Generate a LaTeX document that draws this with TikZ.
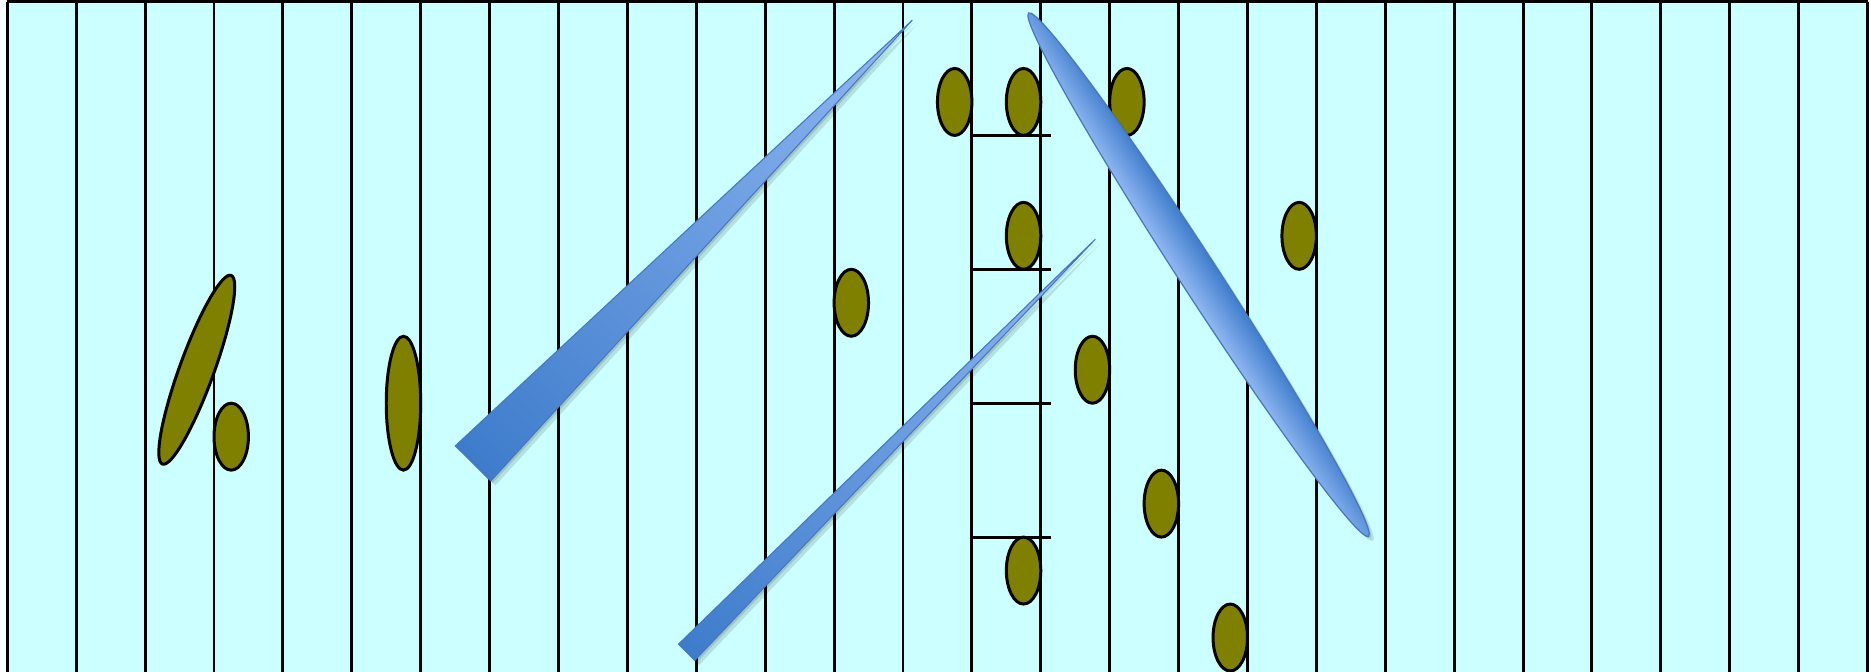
\documentclass[tikz,border=0pt]{standalone}
\usepackage{xcolor,tikz}
\definecolor{cellcyan}{RGB}{204,255,255}
\definecolor{grainolive}{RGB}{128,128,0}
\definecolor{needledark}{RGB}{62,124,203}
\definecolor{needlelight}{RGB}{146,184,243}
\definecolor{needlemid}{RGB}{84,140,214}
\definecolor{needleedge}{RGB}{70,120,190}

\begin{document}
\begin{tikzpicture}[x=0.689cm,y=0.6695cm,
  gridline/.style={line width=.85pt,black},
  grain/.style={draw=black,fill=grainolive,line width=.85pt},
  needle/.style={left color=needledark,right color=needlelight,draw=needleedge,line width=.3pt},
  spindle/.style={bottom color=needlelight,middle color=needlemid,top color=needledark,draw=needleedge,line width=.35pt},
  needleshadow/.style={fill=black,opacity=.12}]
\useasboundingbox (-0.106,0.0224) rectangle (27.05,-10.015);
\fill[cellcyan] (0,0) rectangle (27,-10.015);
\foreach \x in {0,...,27}
  \draw[gridline] (\x,0) -- (\x,-10.015);
\draw[gridline] (0,0) -- (27,0);
\foreach \y in {-2,-4,-6,-8}
  \draw[gridline] (14,\y) -- (15.15,\y);
\foreach \x/\y in {13.75/-1.5,14.75/-1.5,16.25/-1.5,14.75/-3.5,18.75/-3.5,12.25/-4.5,
                   15.75/-5.5,16.75/-7.5,14.75/-8.5,17.75/-9.5,3.25/-6.5}
  \draw[grain] (\x,\y) ellipse (.25 and .5);
\draw[grain] (5.75,-6) ellipse (.25 and 1);
\draw[grain,rotate around={-20:(2.75,-5.5)}] (2.75,-5.5) ellipse (.25 and 1.5);
% needles
\foreach \dx in {.02,.045}
{
\begin{scope}[transform canvas={shift={(6.76,-6.90)},xshift=\dx cm,yshift=-\dx cm,rotate=45.26}]
  \fill[needleshadow] (0cm,-.25cm) -- (6.24cm,0cm) -- (0cm,.25cm) -- cycle;
\end{scope}
\begin{scope}[transform canvas={shift={(9.86,-9.72)},xshift=\dx cm,yshift=-\dx cm,rotate=45.3}]
  \fill[needleshadow] (0cm,-.115cm) -- (5.81cm,0cm) -- (0cm,.115cm) -- cycle;
\end{scope}
\begin{scope}[transform canvas={shift={(17.29,-4.08)},xshift=\dx cm,yshift=-\dx cm,rotate=-57}]
  \fill[needleshadow] (0cm,0cm) ellipse (3.12cm and .19cm);
\end{scope}
}
\begin{scope}[transform canvas={shift={(6.76,-6.90)},rotate=45.26}]
  \shadedraw[needle] (0cm,-.25cm) -- (6.24cm,0cm) -- (0cm,.25cm) -- cycle;
\end{scope}
\begin{scope}[transform canvas={shift={(9.86,-9.72)},rotate=45.3}]
  \shadedraw[needle] (0cm,-.115cm) -- (5.81cm,0cm) -- (0cm,.115cm) -- cycle;
\end{scope}
\begin{scope}[transform canvas={shift={(17.29,-4.08)},rotate=-57}]
  \shadedraw[spindle] (0cm,0cm) ellipse (3.12cm and .19cm);
\end{scope}
\end{tikzpicture}
\end{document}
